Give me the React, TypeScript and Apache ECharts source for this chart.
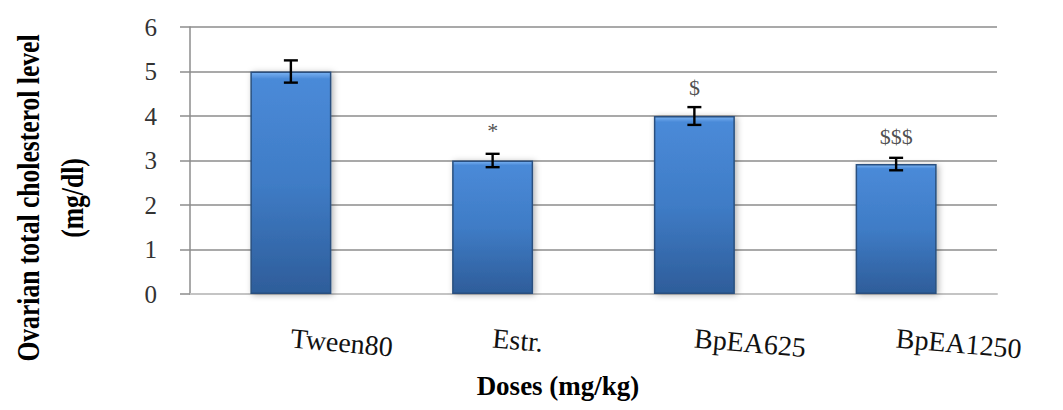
import React, { useEffect, useRef } from "react";
import * as echarts from "echarts";

const categories = ["Tween80", "Estr.", "BpEA625", "BpEA1250"];
const means = [5.0, 3.0, 4.0, 2.92];
const errors = [0.25, 0.15, 0.2, 0.14];
const annotations = ["", "*", "$", "$$$"];
const annotationY = [0, 3.67, 4.63, 3.53];
const yTicks = [0, 1, 2, 3, 4, 5, 6];

const SERIF = "'Liberation Serif', 'Times New Roman', serif";

export default function App() {
  const ref = useRef<HTMLDivElement>(null);

  useEffect(() => {
    if (!ref.current) return;
    const chart = echarts.init(ref.current, undefined, { renderer: "svg" });

    const errData = means.map((m, i) => [i, m - errors[i], m + errors[i]]);
    const annData = annotations
      .map((a, i) => ({ value: [i, annotationY[i]], text: a }))
      .filter((d) => d.text !== "");

    chart.setOption({
      animation: false,
      backgroundColor: "#ffffff",
      grid: { left: 190, right: 66, top: 27, bottom: 116 },
      xAxis: {
        type: "category",
        data: categories,
        axisLine: { lineStyle: { color: "#c4c4c4", width: 2 } },
        axisTick: { show: false },
        axisLabel: {
          rotate: -5,
          margin: 44,
          fontFamily: SERIF,
          fontSize: 28,
          color: "#111",
          interval: 0,
        },
      },
      yAxis: {
        type: "value",
        min: yTicks[0],
        max: yTicks[yTicks.length - 1],
        interval: 1,
        axisLine: { show: true, lineStyle: { color: "#8c8c8c", width: 1.5 } },
        axisTick: { show: true, inside: false, length: 10, lineStyle: { color: "#8c8c8c", width: 1.5 } },
        splitLine: { show: true, lineStyle: { color: "#8c8c8c", width: 1.5 } },
        axisLabel: {
          margin: 33,
          fontFamily: SERIF,
          fontSize: 25,
          color: "#333",
        },
      },
      series: [
        {
          type: "bar",
          data: means,
          barWidth: 81,
          itemStyle: {
            color: new echarts.graphic.LinearGradient(0, 0, 0, 1, [
              { offset: 0, color: "#7ab2f2" },
              { offset: 0.03, color: "#4a8ad8" },
              { offset: 0.5, color: "#3f7cc6" },
              { offset: 1, color: "#2e5d9a" },
            ]),
            borderColor: "#29507f",
            borderWidth: 1.5,
            shadowBlur: 6,
            shadowColor: "rgba(0,0,0,0.3)",
            shadowOffsetX: 2,
            shadowOffsetY: 1,
          },
        },
        {
          type: "custom",
          data: errData,
          z: 10,
          renderItem: (params: any, api: any) => {
            const x = api.value(0);
            const lo = api.coord([x, api.value(1)]);
            const hi = api.coord([x, api.value(2)]);
            const cap = 7;
            const style = { stroke: "#000", lineWidth: 2.4 };
            return {
              type: "group",
              children: [
                { type: "line", shape: { x1: lo[0], y1: lo[1], x2: hi[0], y2: hi[1] }, style },
                { type: "line", shape: { x1: hi[0] - cap, y1: hi[1], x2: hi[0] + cap, y2: hi[1] }, style },
                { type: "line", shape: { x1: lo[0] - cap, y1: lo[1], x2: lo[0] + cap, y2: lo[1] }, style },
              ],
            };
          },
        },
        {
          type: "scatter",
          symbolSize: 1,
          itemStyle: { color: "transparent" },
          data: annData,
          z: 11,
          label: {
            show: true,
            position: "inside",
            formatter: (p: any) => p.data.text,
            fontFamily: SERIF,
            fontSize: 22,
            color: "#222",
          },
        },
      ],
      graphic: [
        {
          type: "text",
          x: 28,
          y: 198,
          rotation: Math.PI / 2,
          scaleX: 0.8,
          style: {
            text: "Ovarian total cholesterol level",
            fontFamily: SERIF,
            fontWeight: "bold",
            fontSize: 32,
            fill: "#000",
            textAlign: "center",
            textVerticalAlign: "middle",
          },
        },
        {
          type: "text",
          x: 72,
          y: 198,
          rotation: Math.PI / 2,
          scaleX: 0.8,
          style: {
            text: "(mg/dl)",
            fontFamily: SERIF,
            fontWeight: "bold",
            fontSize: 32,
            fill: "#000",
            textAlign: "center",
            textVerticalAlign: "middle",
          },
        },
        {
          type: "text",
          x: 558,
          y: 386,
          style: {
            text: "Doses (mg/kg)",
            fontFamily: SERIF,
            fontWeight: "bold",
            fontSize: 27,
            fill: "#000",
            textAlign: "center",
            textVerticalAlign: "middle",
          },
        },
      ],
    });

    return () => chart.dispose();
  }, []);

  return <div ref={ref} style={{ width: 1063, height: 410, position: "absolute", left: 0, top: 0 }} />;
}
